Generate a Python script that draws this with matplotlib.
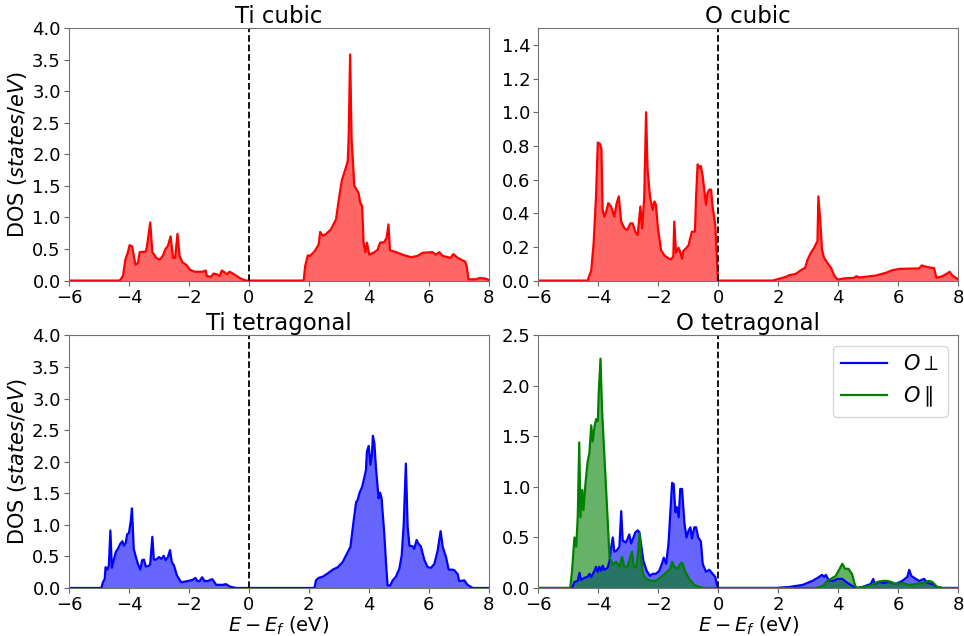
import matplotlib.pyplot as plt
import numpy as np

# projected DOS, energies relative to the Fermi level (eV)
ti_cubic_e = [-6.0, -4.31, -4.2, -4.12, -4.03, -3.98, -3.89, -3.84, -3.78, -3.7, -3.64, -3.44, -3.4, -3.29,
              -3.22, -3.09, -2.98, -2.87, -2.78, -2.7, -2.61, -2.53, -2.46, -2.38, -2.31, -2.22, -2.09, -1.96,
              -1.81, -1.53, -1.44, -1.4, -1.26, -1.18, -1.07, -0.98, -0.9, -0.81, -0.73, -0.64, -0.53, -0.37,
              -0.22, -0.09, 1.83, 1.88, 1.97, 2.04, 2.19, 2.33, 2.38, 2.47, 2.58, 2.74, 2.91, 3.02, 3.11, 3.22,
              3.3, 3.33, 3.38, 3.43, 3.47, 3.52, 3.66, 3.72, 3.78, 3.83, 3.89, 3.94, 4.02, 4.19, 4.3, 4.38,
              4.52, 4.6, 4.66, 4.71, 4.91, 5.13, 5.41, 5.63, 5.8, 6.13, 6.24, 6.36, 6.47, 6.74, 6.82, 6.97,
              7.13, 7.22, 7.27, 7.33, 7.58, 7.71, 7.9, 8.0]
ti_cubic_dos = [0.0, 0.0, 0.07, 0.33, 0.46, 0.56, 0.54, 0.39, 0.25, 0.28, 0.45, 0.46, 0.54, 0.92,
                0.45, 0.36, 0.33, 0.39, 0.50, 0.55, 0.70, 0.36, 0.36, 0.74, 0.39, 0.29, 0.25, 0.17,
                0.14, 0.14, 0.16, 0.07, 0.06, 0.11, 0.10, 0.07, 0.16, 0.13, 0.10, 0.14, 0.11, 0.06,
                0.02, 0.0, 0.0, 0.23, 0.40, 0.39, 0.46, 0.57, 0.77, 0.71, 0.74, 0.81, 0.97, 1.34, 1.60, 1.76,
                1.89, 2.23, 3.58, 2.23, 1.92, 1.50, 1.39, 1.23, 1.18, 0.60, 0.45, 0.60, 0.41, 0.45, 0.49, 0.60,
                0.61, 0.68, 0.89, 0.48, 0.45, 0.41, 0.37, 0.39, 0.44, 0.45, 0.41, 0.45, 0.39, 0.36, 0.42, 0.36,
                0.32, 0.30, 0.23, 0.02, 0.02, 0.04, 0.03, 0.01]

o_cubic_e = [-6.0, -4.36, -4.24, -4.16, -4.08, -4.02, -3.94, -3.9, -3.86, -3.8, -3.74, -3.67, -3.58, -3.47,
             -3.39, -3.32, -3.24, -3.13, -3.04, -2.93, -2.86, -2.77, -2.69, -2.6, -2.54, -2.47, -2.41, -2.36,
             -2.28, -2.19, -2.13, -2.08, -2.02, -1.91, -1.8, -1.69, -1.58, -1.5, -1.47, -1.41, -1.33, -1.28,
             -1.21, -1.17, -1.06, -0.99, -0.94, -0.88, -0.78, -0.74, -0.69, -0.63, -0.58, -0.52, -0.41, -0.36,
             -0.3, -0.24, -0.19, -0.1, -0.06, -0.01, 1.81, 2.14, 2.31, 2.37, 2.59, 2.76, 2.9, 2.98, 3.09, 3.2,
             3.31, 3.34, 3.4, 3.46, 3.53, 3.64, 3.76, 3.87, 3.98, 4.26, 4.53, 4.61, 4.7, 5.26, 5.59, 5.81,
             6.09, 6.7, 6.79, 6.98, 7.2, 7.28, 7.48, 7.64, 7.72, 7.81, 7.98, 8.0]
o_cubic_dos = [0.0, 0.0, 0.06, 0.22, 0.50, 0.82, 0.81, 0.78, 0.42, 0.38, 0.41, 0.46, 0.44, 0.38,
               0.46, 0.50, 0.35, 0.31, 0.30, 0.34, 0.34, 0.29, 0.27, 0.44, 0.31, 0.50, 1.0, 0.66,
               0.50, 0.42, 0.47, 0.45, 0.32, 0.18, 0.15, 0.135, 0.125, 0.145, 0.35, 0.165, 0.195, 0.175,
               0.13, 0.175, 0.195, 0.21, 0.25, 0.29, 0.29, 0.50, 0.69, 0.67, 0.68, 0.62, 0.45, 0.52,
               0.54, 0.54, 0.44, 0.33, 0.18, 0.0, 0.0, 0.016, 0.026, 0.032, 0.04, 0.062, 0.076, 0.125, 0.165, 0.195,
               0.235, 0.50, 0.36, 0.185, 0.135, 0.105, 0.076, 0.03, 0.006, 0.014, 0.016, 0.026, 0.018, 0.03, 0.046, 0.062,
               0.07, 0.072, 0.09, 0.08, 0.074, 0.016, 0.026, 0.042, 0.052, 0.03, 0.01, 0.01]

ti_tet_e = [-6.0, -4.92, -4.87, -4.81, -4.78, -4.72, -4.67, -4.62, -4.57, -4.51, -4.44, -4.37, -4.29, -4.22,
            -4.17, -4.11, -4.06, -4.0, -3.94, -3.9, -3.84, -3.78, -3.7, -3.62, -3.56, -3.5, -3.44, -3.33,
            -3.29, -3.22, -3.17, -3.09, -3.0, -2.92, -2.84, -2.78, -2.7, -2.63, -2.57, -2.5, -2.4, -2.26,
            -2.03, -1.87, -1.78, -1.72, -1.64, -1.56, -1.48, -1.37, -1.22, -1.09, -0.87, -0.76, -0.62, -0.42,
            2.19, 2.24, 2.33, 2.47, 2.63, 2.8, 2.97, 3.13, 3.27, 3.39, 3.5, 3.58, 3.63, 3.69, 3.78, 3.86,
            3.91, 3.94, 4.0, 4.06, 4.11, 4.14, 4.19, 4.24, 4.33, 4.38, 4.43, 4.52, 4.58, 4.63, 4.72, 4.8,
            4.91, 5.02, 5.1, 5.17, 5.24, 5.3, 5.36, 5.47, 5.52, 5.6, 5.66, 5.74, 5.86, 5.97, 6.08, 6.19,
            6.3, 6.4, 6.47, 6.58, 6.67, 6.8, 6.86, 6.97, 7.02, 7.19, 7.3, 7.47, 8.0]
ti_tet_dos = [0.0, 0.0, 0.09, 0.14, 0.33, 0.29, 0.36, 0.91, 0.32, 0.44, 0.57, 0.62, 0.70, 0.74,
              0.67, 0.71, 0.85, 0.87, 1.06, 1.26, 0.62, 0.51, 0.38, 0.29, 0.44, 0.45, 0.34, 0.35,
              0.38, 0.81, 0.45, 0.45, 0.49, 0.46, 0.51, 0.44, 0.49, 0.60, 0.41, 0.36, 0.20, 0.09,
              0.11, 0.13, 0.16, 0.11, 0.11, 0.17, 0.11, 0.11, 0.14, 0.05, 0.05, 0.06, 0.02, 0.0,
              0.0, 0.12, 0.16, 0.18, 0.23, 0.29, 0.33, 0.41, 0.54, 0.65, 1.07, 1.36, 1.39, 1.50, 1.60, 1.76,
              1.87, 2.16, 2.25, 1.95, 2.13, 2.41, 2.29, 1.92, 1.42, 1.51, 1.42, 0.86, 0.38, 0.04, 0.04, 0.12,
              0.18, 0.30, 0.51, 1.02, 1.97, 0.97, 0.67, 0.66, 0.62, 0.76, 0.70, 0.66, 0.44, 0.33, 0.32, 0.38,
              0.59, 0.90, 0.65, 0.49, 0.29, 0.29, 0.28, 0.22, 0.11, 0.12, 0.05, 0.0, 0.0]

o_perp_e = [-6.0, -4.88, -4.8, -4.69, -4.63, -4.58, -4.47, -4.36, -4.3, -4.24, -4.13, -4.08, -4.02, -3.97,
            -3.91, -3.86, -3.8, -3.69, -3.63, -3.58, -3.52, -3.47, -3.39, -3.3, -3.24, -3.19, -3.08, -2.97,
            -2.91, -2.83, -2.77, -2.69, -2.63, -2.58, -2.5, -2.39, -2.28, -2.19, -2.08, -1.97, -1.88, -1.82,
            -1.74, -1.66, -1.61, -1.54, -1.49, -1.43, -1.38, -1.32, -1.27, -1.21, -1.13, -1.06, -0.99, -0.93,
            -0.88, -0.8, -0.74, -0.67, -0.58, -0.52, -0.41, -0.3, -0.19, -0.1, -0.03, 0.0, 1.92, 2.37, 2.81,
            3.14, 3.37, 3.46, 3.53, 3.59, 3.7, 3.83, 3.98, 4.14, 4.31, 4.53, 4.64, 4.81, 5.09, 5.17, 5.22,
            5.37, 5.53, 5.7, 5.92, 6.14, 6.31, 6.37, 6.44, 6.59, 6.7, 6.87, 6.98, 7.14, 7.31, 7.48, 8.0]
o_perp_dos = [0.0, 0.0, 0.06, 0.07, 0.15, 0.08, 0.10, 0.11, 0.14, 0.11, 0.17, 0.21, 0.16, 0.21,
              0.17, 0.22, 0.18, 0.20, 0.27, 0.39, 0.50, 0.36, 0.37, 0.41, 0.76, 0.47, 0.45, 0.53,
              0.44, 0.50, 0.55, 0.57, 0.55, 0.44, 0.27, 0.17, 0.12, 0.14, 0.14, 0.17, 0.24, 0.30,
              0.24, 0.44, 0.70, 1.04, 1.03, 0.75, 0.80, 0.70, 0.98, 0.98, 0.64, 0.50, 0.57, 0.60,
              0.49, 0.60, 0.60, 0.50, 0.46, 0.24, 0.16, 0.18, 0.14, 0.11, 0.01, 0.0, 0.0, 0.01, 0.03,
              0.07, 0.11, 0.13, 0.11, 0.13, 0.07, 0.07, 0.09, 0.09, 0.05, 0.01, 0.0, 0.01, 0.04, 0.09, 0.04,
              0.06, 0.05, 0.06, 0.04, 0.07, 0.11, 0.18, 0.12, 0.09, 0.07, 0.09, 0.05, 0.04, 0.01, 0.0, 0.0]

o_par_e = [-6.0, -4.94, -4.88, -4.8, -4.74, -4.69, -4.64, -4.6, -4.54, -4.5, -4.43, -4.36, -4.3, -4.24,
           -4.19, -4.13, -4.08, -4.02, -3.99, -3.93, -3.88, -3.8, -3.72, -3.63, -3.52, -3.41, -3.3, -3.21,
           -3.13, -3.02, -2.93, -2.88, -2.82, -2.74, -2.69, -2.63, -2.58, -2.52, -2.41, -2.24, -2.08, -1.91,
           -1.74, -1.61, -1.54, -1.47, -1.36, -1.24, -1.19, -1.1, -0.97, -0.8, -0.63, -0.47, 3.26, 3.48,
           3.64, 3.76, 3.92, 4.03, 4.14, 4.23, 4.34, 4.46, 4.57, 4.64, 4.81, 5.03, 5.2, 5.31, 5.48, 5.64,
           5.76, 5.92, 6.14, 6.37, 6.59, 6.81, 7.03, 7.14, 7.31, 7.48, 8.0]
o_par_dos = [0.0, 0.0, 0.17, 0.50, 0.41, 0.70, 1.44, 0.70, 0.97, 0.77, 1.04, 1.25, 1.34, 1.61,
             1.45, 1.60, 1.67, 1.65, 1.93, 2.27, 1.77, 1.30, 0.84, 0.31, 0.23, 0.26, 0.21, 0.31,
             0.20, 0.22, 0.31, 0.36, 0.21, 0.20, 0.31, 0.54, 0.31, 0.14, 0.09, 0.07, 0.07, 0.11,
             0.15, 0.19, 0.26, 0.21, 0.19, 0.25, 0.24, 0.16, 0.09, 0.03, 0.01, 0.0, 0.0, 0.02,
             0.07, 0.09, 0.12, 0.18, 0.24, 0.19, 0.19, 0.14, 0.02, 0.0, 0.01, 0.02, 0.04, 0.06, 0.07, 0.07,
             0.06, 0.04, 0.05, 0.03, 0.04, 0.05, 0.07, 0.06, 0.01, 0.0, 0.0]

titles = ['Ti cubic', 'O cubic', 'Ti tetragonal', 'O tetragonal']
ymax = [4.0, 1.5, 4.0, 2.5]
ystep = [0.5, 0.2, 0.5, 0.5]

fig, axes = plt.subplots(2, 2, figsize=(9.64, 6.36), dpi=100)
axes = axes.flatten()
curves = [[(ti_cubic_e, ti_cubic_dos, 'red', None)],
          [(o_cubic_e, o_cubic_dos, 'red', None)],
          [(ti_tet_e, ti_tet_dos, 'blue', None)],
          [(o_perp_e, o_perp_dos, 'blue', r'$O\perp$'), (o_par_e, o_par_dos, 'green', r'$O\parallel$')]]

for i in range(4):
    ax = axes[i]
    for e, dos, c, lab in curves[i]:
        ax.fill_between(e, dos, color=c, alpha=0.6, lw=0)
        ax.plot(e, dos, color=c, lw=1.6, label=lab)
    ax.axvline(0, color='k', ls='--', lw=1.3)
    ax.set_xlim(-6, 8)
    ax.set_ylim(0, ymax[i])
    ax.set_xticks(np.arange(-6, 9, 2))
    yt = np.arange(0, ymax[i] + 1e-6, ystep[i])
    ax.set_yticks(yt)
    ax.set_yticklabels(['%.1f' % v for v in yt])
    ax.set_title(titles[i], fontsize=16.5, pad=3)
    ax.tick_params(labelsize=13, color='0.4', pad=2.5)
    for s in ax.spines.values():
        s.set_color('0.45')
    if i % 2 == 0:
        ax.set_ylabel('DOS ($states/eV$)', fontsize=15, labelpad=2)
    if i >= 2:
        ax.set_xlabel('$E - E_f$ (eV)', fontsize=14, labelpad=0)

axes[3].legend(loc='upper right', fontsize=15, handlelength=2.2)

fig.subplots_adjust(left=0.0716, right=0.9938, top=0.956, bottom=0.0755, wspace=0.119, hspace=0.217)
plt.savefig('out.png', dpi=100)
plt.close()
